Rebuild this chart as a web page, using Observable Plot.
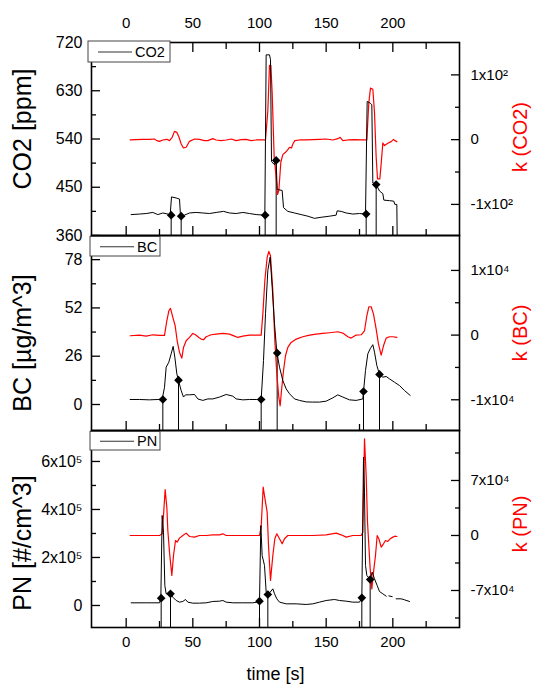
<!DOCTYPE html>
<html>
<head>
<meta charset="utf-8">
<script src="https://cdn.jsdelivr.net/npm/d3@7"></script>
<script src="https://cdn.jsdelivr.net/npm/@observablehq/plot@0.6"></script>
<style>
  body { margin: 0; background: #fff; }
  #chart { position: relative; width: 537px; height: 684px; overflow: hidden; background: #fff; }
  #chart svg { position: absolute; left: 0; overflow: visible; }
</style>
</head>
<body>
<div id="chart"></div>
<script>
// ---------- shared axis ----------
const timeDomain = [-26, 250];
const timeMajor = [0, 50, 100, 150, 200];
const timeMinor = [25, 75, 125, 175, 225];

// ---------- CO2 panel ----------
const co2Series = [[3.75,399],[10,400],[15,401],[20,403],[23.75,399],[27.5,402],[31.25,400],[33,398],[34,432],[37.5,430],[40,428],[40.75,396],[43.75,398],[47.5,402],[52.5,403],[57.5,402],[62.5,401],[67.5,403],[73,405],[77.5,402],[82.5,401],[87.5,403],[92.5,401],[97.5,399],[104,398],[105,697],[107.5,697],[108.25,688],[109,498],[111.25,492],[112.5,500],[113.25,446],[117,444],[118,412],[121.25,405],[126.25,402],[131.25,399],[136.25,396],[141.25,392],[146.25,394],[152.5,396],[157.5,398],[158.25,406],[161.25,405],[165,402],[170,400],[175,401],[179.5,400],[180.75,610],[183,607],[184.25,604],[185,458],[187.5,455],[190,443],[192.5,438],[193.25,426],[197.5,425],[200.75,424],[201.5,418],[203,418],[203.25,360]];
const co2Rate = [[3,-0.5],[7.5,0],[12.5,0.5],[17.5,0.5],[21.25,1],[23,-1.5],[25,-2.6],[27.5,-0.5],[30.5,0.5],[32.5,-1.5],[34.5,3.6],[36.25,12.8],[38,11.3],[39.5,4.6],[41.25,-6.7],[43,-12.8],[45,-11.8],[47.5,-2.6],[51.25,1],[55,0.5],[58.75,-1.5],[61.25,-1.5],[65,1.5],[67.5,-0.5],[71.25,-1.5],[75,-0.5],[78.75,1],[82.5,-1.5],[86.25,0],[90,0.5],[93.75,-1.5],[97.5,-0.5],[104.5,-0.5],[106.25,44.6],[107.5,114.9],[108.5,114.9],[109.5,72.8],[111,-27.2],[112.5,-58],[113.5,-84.6],[114.5,-78.5],[116,-34.9],[117.5,-23.1],[119.5,-19.5],[121.25,-15.4],[122.5,-11.8],[124,-12.8],[125,-6.7],[126.5,-1.5],[130,-0.5],[135,-0.5],[140,0],[145,0.5],[150,1],[155,-0.5],[158.75,1.5],[160.5,3.6],[162.5,-1.5],[166.25,-0.5],[171.25,0],[176.25,-0.5],[180.5,-0.5],[182,57.4],[183.25,79.5],[185,77.9],[186.25,42],[187.5,-27.2],[188.5,-60.5],[190.25,-60.5],[191.25,-37.4],[192.5,-5.1],[193.75,-9.2],[196.25,-5.6],[198.75,-3.1],[200.5,0.5],[201.5,-1.5],[203,-3.1]];
const co2Markers = [[33.75,398],[41.25,396],[104.25,398],[112.5,500],[180,400],[187.5,455]];
const co2Ticks = [360, 450, 540, 630, 720];
const co2MinorTicks = [405, 495, 585, 675];
const co2RateTicks = [-100, 0, 100];
const co2RateMinorTicks = [-50, 50];

// ---------- BC panel ----------
const bcSeries = [[3,2.7],[10,2.7],[17.5,2.5],[23.75,2.7],[27,2.7],[28.75,9.3],[30,20.1],[32,22.8],[33.75,27.3],[35.25,31.3],[36.5,25.5],[38,16.5],[39.25,12.9],[41.25,7.5],[43,4],[44.5,5.2],[47.5,5.2],[51.25,5.4],[53.75,3],[57.5,2.2],[61.25,3],[65,3],[70,4],[75,5.4],[80,4.5],[82.5,3],[87.5,2.5],[92.5,2.7],[97.5,2.7],[101.25,2.7],[103,23.7],[104.5,48.9],[106.25,72.2],[108,79.4],[109.5,63.3],[111.25,43.5],[113,28.2],[115,20.1],[117.5,12.9],[120,8.4],[122.5,5.8],[126.25,3],[130,2.2],[135,1.4],[140,1.3],[145,1.3],[150,1.8],[155,3.6],[158.75,5.2],[162.5,4],[167.5,2.5],[172.5,2.2],[177.5,3],[178,7],[179.5,18.3],[181.25,27.3],[183,30],[185,32.2],[186.25,28.2],[188,21],[190,16.2],[192.5,14.7],[195,15.1],[197.5,13.8],[201.25,12],[205,10.2],[208.75,7.5],[213,4.9]];
const bcRate = [[3,-100],[10,0],[15,-150],[20,50],[25,-50],[28.75,-50],[30.5,2217],[32,3763],[33.25,4124],[35,2732],[36.75,1443],[38.25,-876],[40,-2680],[41.75,-3557],[43,-1907],[45,-876],[47.5,-361],[50,258],[52,52],[54.5,-361],[56.25,-619],[58,-722],[60,-258],[63.75,52],[67.5,155],[72.5,258],[77.5,155],[81.25,-155],[83.75,-361],[87.5,-155],[92.5,0],[97.5,0],[101.25,0],[102.5,3248],[104,8403],[105.75,12011],[107,12939],[108.25,12269],[110,6856],[111.5,-876],[113,-6031],[114.5,-9640],[115.5,-10929],[116.5,-8609],[118,-5516],[119.5,-3196],[121.25,-1907],[123.75,-1134],[127.5,-619],[132.5,-258],[137.5,0],[142.5,155],[147.5,258],[152.5,361],[158.75,516],[162.5,309],[166.25,-258],[168.75,-464],[172.5,0],[176.25,52],[178.75,670],[180.5,2990],[182,4382],[183.75,4382],[185.5,3248],[187.5,928],[189.25,-1392],[191.25,-3093],[193,-1650],[195,-464],[197.5,-258],[200,-258],[203,-361]];
const bcMarkers = [[27.5,2.7],[39.25,13.1],[101.25,2.7],[113.25,27.7],[178,7],[190,16.2]];
const bcTicks = [0, 26, 52, 78];
const bcMinorTicks = [13, 39, 65];
const bcRateTicks = [-10000, 0, 10000];
const bcRateMinorTicks = [-5000, 5000];

// ---------- PN panel ----------
const pnSeries = [[3.75,11100],[15,11100],[25,11100],[26,30500],[27,375000],[28,305600],[29,83000],[30,48600],[31.5,50000],[33.25,48600],[35,34700],[37.5,20800],[40,13900],[42.5,16700],[44.5,25000],[46.25,13900],[50,9700],[55,9700],[60,11100],[65,16700],[70,18000],[72.5,20800],[75,13900],[80,11100],[87.5,11100],[95,11100],[99.5,15000],[100,18000],[101,333000],[102,208000],[103.75,166700],[105,55600],[106.25,45800],[108,55600],[110,69400],[111.25,48600],[113,27800],[115,13900],[120,6900],[127.5,6900],[135,4200],[140,6900],[145,13900],[150,20800],[156.25,25000],[160,20800],[165,18000],[170,13900],[175,13900],[176.75,31900],[178,618000],[178.75,472000],[179.5,166700],[180.5,125000],[183,108300],[184.5,139000],[186.25,111000],[188.25,83300],[190,58300],[192.5,48600],[195,38900],[195.6,null],[197,40000],[199.5,37000],[200.3,null],[202.5,27800],[206.25,27800],[208.75,23600],[212.5,16700]];
const pnRate = [[3,0],[25,0],[27,2100],[28,25500],[29.25,58500],[30.5,36000],[31.25,6400],[32.5,-21200],[34.25,-50900],[35.5,-25500],[37,-6400],[38.25,-8500],[40,-3400],[42.5,0],[45,3000],[47.5,-1300],[51.25,-2100],[55,0],[60,0],[65,850],[70,850],[72.5,2100],[75,0],[85,0],[100,0],[101.25,10600],[102.75,61500],[104.5,42400],[105.75,29700],[106.75,-12700],[108.25,-57300],[110,-25500],[111.5,-4200],[113,2100],[115,-4200],[117,-10600],[118.75,-4200],[121.25,0],[130,0],[140,0],[150,850],[157.5,3000],[161.25,850],[165,-2100],[170,0],[176.25,0],[177.5,4200],[178.75,123000],[180,76400],[181,17000],[182,-12700],[183,-42400],[184.25,-67900],[185.5,-46700],[187,-25500],[188.25,0],[189.5,-4200],[191.25,-14800],[193,-10600],[194.5,-6400],[196.25,-7600],[198,-4200],[200,-2100],[201.5,-900],[203,-1300]];
const pnMarkers = [[26.25,30500],[33.25,48600],[100,18000],[106.25,45800],[176.75,31900],[183,108300]];
const pnTicks = [0, 200000, 400000, 600000];
const pnMinorTicks = [100000, 300000, 500000, 700000];
const pnRateTicks = [-70000, 0, 70000];
const pnRateMinorTicks = [-105000, -35000, 35000, 105000];

// ---------- helpers ----------
const SUP = {"0":"⁰","1":"¹","2":"²","3":"³","4":"⁴","5":"⁵","6":"⁶","7":"⁷","8":"⁸","9":"⁹"};
function sci(v, e) {
  if (v === 0) return "0";
  const m = Math.round(v / Math.pow(10, e));
  return `${m}x10${String(e).split("").map(c => SUP[c]).join("")}`;
}
const FONT = "'Liberation Sans', Arial, Helvetica, sans-serif";
const W = 537, ML = 91, MR = 78;

function makePanel(p) {
  const [y0, y1] = p.yDomain, [k0, k1] = p.kDomain;
  const kToY = k => y0 + (k - k0) * (y1 - y0) / (k1 - k0);
  const yToK = y => k0 + (y - y0) * (k1 - k0) / (y1 - y0);
  const main = p.series.map(([t, v]) => ({t, v: v == null ? NaN : v}));
  const rate = p.rate.map(([t, k]) => ({t, v: kToY(k)}));
  const marks = p.markers.map(([t, v]) => ({t, v}));
  const axisStyle = {label: null, strokeWidth: 1.3};
  const m = [
    Plot.ruleX(marks, {x: "t", y1: "v", y2: () => y0, stroke: "black", strokeWidth: 1}),
    Plot.line(rate, {x: "t", y: "v", stroke: "#ff0000", strokeWidth: 1.2}),
    Plot.line(main, {x: "t", y: "v", stroke: "black", strokeWidth: 1}),
    Plot.dot(marks, {x: "t", y: "v", symbol: "diamond2", r: 3.9, fill: "black", stroke: "none"}),
    // left axis
    Plot.axisY({...axisStyle, anchor: "left", ticks: p.yMinor, tickSize: -5, tickFormat: () => ""}),
    Plot.axisY({...axisStyle, anchor: "left", ticks: p.yMajor, tickSize: -9, tickFormat: () => ""}),
    Plot.axisY({label: null, anchor: "left", ticks: p.yMajor, tickSize: 0, tickPadding: 9, fontSize: 16, tickFormat: p.yFmt}),
    // right axis (rate)
    Plot.axisY({...axisStyle, anchor: "right", ticks: p.kMinor.map(kToY), tickSize: -5, tickFormat: () => ""}),
    Plot.axisY({...axisStyle, anchor: "right", ticks: p.kMajor.map(kToY), tickSize: -9, tickFormat: () => ""}),
    Plot.axisY({label: null, anchor: "right", ticks: p.kMajor.map(kToY), tickSize: 0, tickPadding: 11, fontSize: 15,
      tickFormat: d => sci(Math.round(yToK(d)), p.kExp)}),
    // bottom time ticks
    Plot.axisX({...axisStyle, anchor: "bottom", ticks: timeMinor, tickSize: -6, tickFormat: () => ""}),
    Plot.axisX({...axisStyle, anchor: "bottom", ticks: timeMajor, tickSize: -9, tickFormat: () => ""}),
    // titles
    Plot.text([p.title], {frameAnchor: "left", text: d => d, rotate: -90, dx: -69, dy: p.titleDy,
      fontSize: 25, textAnchor: "middle", lineAnchor: "middle", fill: "black"}),
    Plot.text([p.kTitle], {frameAnchor: "right", text: d => d, rotate: -90, dx: 61, dy: p.kTitleDy,
      fontSize: 20, textAnchor: "middle", lineAnchor: "middle", fill: "#ff0000"}),
    Plot.frame({stroke: "black", strokeWidth: 1.6})
  ];
  if (p.topAxis) {
    m.push(
      Plot.axisX({...axisStyle, anchor: "top", ticks: timeMinor, tickSize: -6, tickFormat: () => ""}),
      Plot.axisX({...axisStyle, anchor: "top", ticks: timeMajor, tickSize: -9, tickFormat: () => ""}),
      Plot.axisX({label: null, anchor: "top", ticks: timeMajor, tickSize: 0, tickPadding: 15, fontSize: 15})
    );
  }
  if (p.bottomLabels) {
    m.push(
      Plot.axisX({label: null, anchor: "bottom", ticks: timeMajor, tickSize: 0, tickPadding: 9, fontSize: 15}),
      Plot.text(["time [s]"], {frameAnchor: "bottom", text: d => d, dy: 52, fontSize: 18,
        textAnchor: "middle", lineAnchor: "bottom", fill: "black"})
    );
  }
  const svg = Plot.plot({
    width: W, height: p.height,
    marginLeft: ML, marginRight: MR, marginTop: p.mt, marginBottom: p.mb,
    x: {domain: timeDomain},
    y: {domain: p.yDomain},
    style: {fontFamily: FONT, background: "transparent", overflow: "visible", color: "black"},
    marks: m
  });
  svg.style.top = p.svgTop + "px";
  // legend box
  const L = p.legend;
  const g = d3.select(svg).append("g").attr("text-anchor", "start");
  g.append("rect").attr("x", L.x).attr("y", L.y).attr("width", L.w).attr("height", L.h)
    .attr("fill", "white").attr("stroke", "#444").attr("stroke-width", 1);
  g.append("line").attr("x1", L.x + 10).attr("x2", L.x + 44).attr("y1", L.y + L.h / 2 + 0.5).attr("y2", L.y + L.h / 2 + 0.5)
    .attr("stroke", "#333").attr("stroke-width", 1.2);
  g.append("text").attr("x", L.x + 47).attr("y", L.y + L.h / 2 + 5.5).attr("font-size", 14.5)
    .attr("text-anchor", "start").attr("font-family", FONT).attr("fill", "black").text(p.legendText);
  document.getElementById("chart").appendChild(svg);
}

makePanel({
  svgTop: 0, height: 240, mt: 42, mb: 5,
  yDomain: [360, 720], kDomain: [-148, 150],
  series: co2Series, rate: co2Rate, markers: co2Markers,
  yMajor: co2Ticks, yMinor: co2MinorTicks, yFmt: d => String(d),
  kMajor: co2RateTicks, kMinor: co2RateMinorTicks, kExp: 2,
  title: "CO2 [ppm]", titleDy: -10, kTitle: "k (CO2)", kTitleDy: -2,
  topAxis: true, bottomLabels: false,
  legend: {x: 88, y: 41, w: 82, h: 21}, legendText: "CO2"
});
makePanel({
  svgTop: 230, height: 205, mt: 5, mb: 5,
  yDomain: [-14, 91], kDomain: [-14750, 15400],
  series: bcSeries, rate: bcRate, markers: bcMarkers,
  yMajor: bcTicks, yMinor: bcMinorTicks, yFmt: d => String(d),
  kMajor: bcRateTicks, kMinor: bcRateMinorTicks, kExp: 4,
  title: "BC [µg/m^3]", titleDy: 10, kTitle: "k (BC)", kTitleDy: 0,
  topAxis: false, bottomLabels: false,
  legend: {x: 90, y: 6.5, w: 70, h: 19.5}, legendText: "BC"
});
makePanel({
  svgTop: 425, height: 259, mt: 5, mb: 57,
  yDomain: [-91700, 729000], kDomain: [-117100, 133600],
  series: pnSeries, rate: pnRate, markers: pnMarkers,
  yMajor: pnTicks, yMinor: pnMinorTicks, yFmt: d => sci(d, 5),
  kMajor: pnRateTicks, kMinor: pnRateMinorTicks, kExp: 4,
  title: "PN [#/cm^3]", titleDy: 14, kTitle: "k (PN)", kTitleDy: -5,
  topAxis: false, bottomLabels: true,
  legend: {x: 90, y: 6.5, w: 70, h: 18.5}, legendText: "PN"
});
</script>
</body>
</html>
